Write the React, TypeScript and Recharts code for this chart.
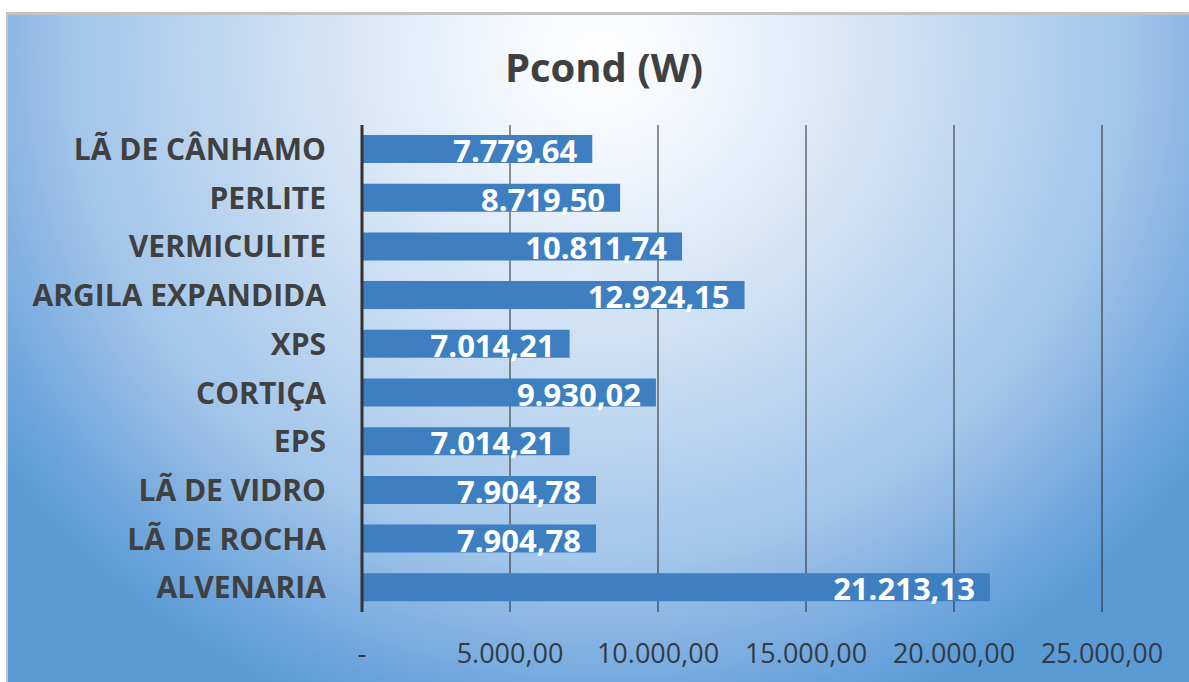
import React from 'react';
import { BarChart, Bar, XAxis, YAxis, CartesianGrid, LabelList } from 'recharts';

const categories = [
  'LÃ DE CÂNHAMO',
  'PERLITE',
  'VERMICULITE',
  'ARGILA EXPANDIDA',
  'XPS',
  'CORTIÇA',
  'EPS',
  'LÃ DE VIDRO',
  'LÃ DE ROCHA',
  'ALVENARIA',
];
const pcond = [7779.64, 8719.5, 10811.74, 12924.15, 7014.21, 9930.02, 7014.21, 7904.78, 7904.78, 21213.13];
const xTicks = [0, 5000, 10000, 15000, 20000, 25000];

const data = categories.map((name, i) => ({ name, value: pcond[i] }));

// 12345.6 -> "12.345,60"
function fmt(v: number) {
  const [int, dec] = v.toFixed(2).split('.');
  return int.replace(/\B(?=(\d{3})+(?!\d))/g, '.') + ',' + dec;
}

const font = '"Open Sans", "DejaVu Sans", sans-serif';

const ValueLabel = (props: any) => {
  const { x, y, width, height, value } = props;
  return (
    <text
      x={x + width - 15}
      y={y + height / 2 + 13}
      textAnchor="end"
      fill="#ffffff"
      fontFamily={font}
      fontWeight={700}
      fontSize={31}
    >
      {fmt(value)}
    </text>
  );
};

export default function App() {
  return (
    <div style={{ position: 'absolute', left: 0, top: 0, width: 1189, height: 682, background: '#fff', overflow: 'hidden' }}>
      <div
        style={{
          position: 'absolute',
          left: 6,
          top: 12,
          width: 1183,
          height: 670,
          borderTop: '3px solid #c3c3c3',
          borderLeft: '2px solid #c3c3c3',
          background:
            'radial-gradient(ellipse 62% 105% at 50% 6%, #ffffff 0%, #eef4fb 18%, #c9ddf2 45%, #a2c5ea 72%, #6ea5dc 92%, #5b9bd5 100%)',
        }}
      />
      <div
        style={{
          position: 'absolute',
          left: 0,
          top: 41,
          width: 1208,
          textAlign: 'center',
          fontFamily: font,
          fontWeight: 700,
          fontSize: 40,
          color: '#404040',
          lineHeight: '52px',
        }}
      >
        Pcond (W)
      </div>
      <div style={{ position: 'absolute', left: 0, top: 0 }}>
        <BarChart
          width={1189}
          height={682}
          data={data}
          layout="vertical"
          margin={{ top: 125, right: 87, left: 0, bottom: 0 }}
          barSize={28}
        >
          <CartesianGrid horizontal={false} vertical stroke="#262626" strokeWidth={1} />
          <XAxis
            type="number"
            domain={[0, 25000]}
            ticks={xTicks}
            height={70}
            axisLine={false}
            tickLine={false}
            tickSize={0}
            tickMargin={32}
            tickFormatter={(v: number) => (v === 0 ? '-' : fmt(v))}
            tick={{ fontSize: 27, fill: '#333a44', fontFamily: font }}
          />
          <YAxis
            type="category"
            dataKey="name"
            width={362}
            axisLine={{ stroke: '#333333', strokeWidth: 3 }}
            tickLine={false}
            tickSize={0}
            tickMargin={36}
            tick={{ fontSize: 30, fill: '#404040', fontWeight: 700, fontFamily: font }}
          />
          <Bar dataKey="value" fill="#3d7fc1" isAnimationActive={false}>
            <LabelList dataKey="value" content={ValueLabel} />
          </Bar>
        </BarChart>
      </div>
    </div>
  );
}
